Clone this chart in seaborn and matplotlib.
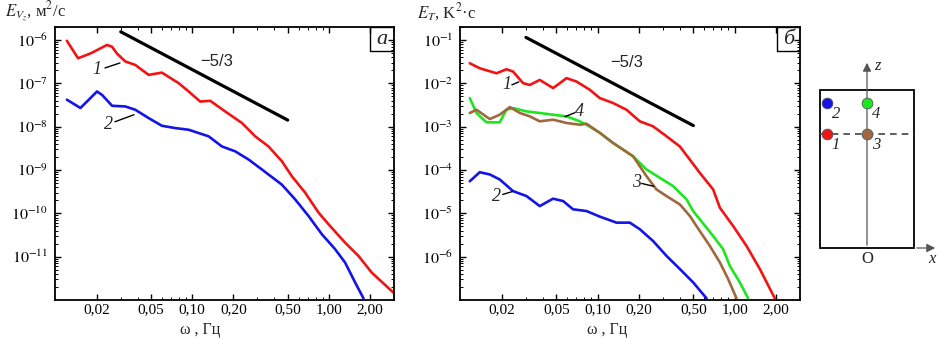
import numpy as np
import pandas as pd
import matplotlib
matplotlib.use("Agg")
import matplotlib.pyplot as plt
import seaborn as sns
from matplotlib.patches import Rectangle, FancyArrowPatch

# ---------------- data ----------------
# Panel a: velocity spectra E_Vz
a1_x = [0.0121, 0.0146, 0.0180, 0.0238, 0.0259, 0.0281, 0.0324, 0.0383, 0.048, 0.060, 0.0796,
        0.0942, 0.1145, 0.1355, 0.1743, 0.231, 0.289, 0.362, 0.453, 0.536, 0.671, 0.841, 0.995,
        1.316, 1.648, 2.06, 3.05]
a1_y = [9.6e-7, 3.8e-7, 4.9e-7, 7.7e-7, 7.0e-7, 4.9e-7, 3.2e-7, 2.66e-7, 1.57e-7, 1.77e-7, 1.01e-7,
        6.5e-8, 3.8e-8, 3.96e-8, 2.25e-8, 1.22e-8, 6.0e-9, 3.5e-9, 1.6e-9, 7.2e-10, 3.0e-10, 1.04e-10,
        5.6e-11, 2.1e-11, 1.04e-11, 4.3e-12, 1.37e-12]
a2_x = [0.0121, 0.0152, 0.0175, 0.0201, 0.0219, 0.0259, 0.0324, 0.0383, 0.048, 0.060, 0.0751, 0.0942,
        0.1318, 0.165, 0.2064, 0.259, 0.3235, 0.453, 0.567, 0.71, 0.889, 1.112, 1.316, 1.557, 1.794]
a2_y = [4.2e-8, 2.7e-8, 4.2e-8, 6.5e-8, 5.4e-8, 3.04e-8, 2.93e-8, 2.46e-8, 1.58e-8, 1.05e-8, 9.3e-9,
        8.5e-9, 6.0e-9, 3.5e-9, 2.7e-9, 1.74e-9, 1.03e-9, 4.6e-10, 2.1e-10, 8.7e-11, 3.3e-11, 1.49e-11,
        7.3e-12, 2.55e-12, 1.09e-12]
a_slope_x = [0.03, 0.5]
a_slope_y = [1.55e-6, 1.42e-8]

# Panel b: temperature spectra E_T
b1_x = [0.01167, 0.0138, 0.01828, 0.02163, 0.02416, 0.02858, 0.032, 0.0378, 0.0473, 0.053, 0.0593,
        0.0702, 0.0877, 0.1038, 0.1298, 0.1625, 0.2032, 0.254, 0.3185, 0.398, 0.471, 0.557, 0.697,
        0.78, 0.975, 1.221, 1.527, 1.966]
b1_y = [2.91e-2, 2.23e-2, 1.71e-2, 2.12e-2, 1.87e-2, 1.01e-2, 9.2e-3, 1.2e-2, 7.8e-3, 1.01e-2, 1.32e-2,
        1.1e-2, 7.1e-3, 4.57e-3, 3.51e-3, 2.46e-3, 1.33e-3, 1.02e-3, 6.0e-4, 3.5e-4, 1.74e-4, 8.6e-5,
        3.56e-5, 1.35e-5, 5.1e-6, 1.77e-6, 5.2e-7, 1.09e-7]
b2_x = [0.01167, 0.0138, 0.01634, 0.0193, 0.02416, 0.0303, 0.0378, 0.0473, 0.056, 0.0662, 0.083,
        0.1038, 0.1374, 0.1718, 0.2032, 0.254, 0.3185, 0.398, 0.498, 0.624]
b2_y = [5.5e-5, 8.9e-5, 7.9e-5, 6.05e-5, 3.26e-5, 2.5e-5, 1.47e-5, 2.18e-5, 1.92e-5, 1.24e-5, 1.13e-5,
        8.4e-6, 6.1e-6, 6.1e-6, 4.3e-6, 2.3e-6, 1.04e-6, 5.2e-7, 2.55e-7, 1.09e-7]
b3_x = [0.01167, 0.01306, 0.01634, 0.0193, 0.0229, 0.0271, 0.032, 0.0378, 0.0473, 0.0593, 0.0741,
        0.083, 0.1038, 0.1298, 0.1816, 0.2275, 0.269, 0.3185, 0.398, 0.471, 0.557, 0.659, 0.78,
        0.897, 1.032]
b3_y = [2.07e-3, 2.46e-3, 1.5e-3, 1.89e-3, 2.84e-3, 2.07e-3, 1.73e-3, 1.33e-3, 1.45e-3, 1.22e-3, 1.11e-3,
        1.17e-3, 7.2e-4, 4.2e-4, 2.07e-4, 7.2e-5, 3.56e-5, 2.5e-5, 1.61e-5, 8.7e-6, 3.9e-6, 1.77e-6,
        7.4e-7, 3.04e-7, 1.09e-7]
b4_x = [0.01167, 0.01306, 0.01545, 0.0193, 0.0216, 0.02416, 0.0303, 0.0378, 0.0473, 0.0593, 0.0741,
        0.083, 0.1038, 0.1298, 0.1816, 0.2275, 0.2845, 0.356, 0.446, 0.498, 0.557, 0.697, 0.824,
        0.923, 1.091, 1.255]
b4_y = [4.57e-3, 2.07e-3, 1.26e-3, 1.26e-3, 2.46e-3, 2.69e-3, 2.25e-3, 2.07e-3, 1.89e-3, 1.73e-3, 1.33e-3,
        1.11e-3, 7.2e-4, 4.2e-4, 2.07e-4, 1.03e-4, 6.6e-5, 4.25e-5, 2.1e-5, 1.13e-5, 7.3e-6, 3.0e-6,
        1.49e-6, 6.1e-7, 2.55e-7, 1.09e-7]
b_slope_x = [0.03, 0.5]
b_slope_y = [0.115, 1.06e-3]

xtick_vals = [0.02, 0.05, 0.1, 0.2, 0.5, 1.0, 2.0]
xtick_labels = ["0,02", "0,05", "0,10", "0,20", "0,50", "1,00", "2,00"]
a_yticks = [1e-6, 1e-7, 1e-8, 1e-9, 1e-10, 1e-11]
b_yticks = [1e-1, 1e-2, 1e-3, 1e-4, 1e-5, 1e-6]

RED, BLUE, GREEN, BROWN = "#f01414", "#1414e6", "#1ee61e", "#a0683c"

# ---------------- style ----------------
sns.set_theme(style="ticks")
plt.rcParams["font.family"] = ["Liberation Serif", "DejaVu Serif"]
plt.rcParams["mathtext.fontset"] = "stix"
plt.rcParams["axes.linewidth"] = 1.3
plt.rcParams["axes.edgecolor"] = "black"

W, H = 940, 338
fig = plt.figure(figsize=(W / 100, H / 100), dpi=100)


def px_axes(x0, y0, x1, y1):
    return fig.add_axes([x0 / W, 1 - y1 / H, (x1 - x0) / W, (y1 - y0) / H])


def curve(ax, xs, ys, color, lw=1.9):
    df = pd.DataFrame({"x": xs, "y": ys})
    sns.lineplot(data=df, x="x", y="y", ax=ax, color=color, lw=lw, sort=False,
                 estimator=None, legend=False)


def setup(ax, ylim, yticks):
    ax.set_xscale("log")
    ax.set_yscale("log")
    ax.set_xlim(0.0099, 3.0)
    ax.set_ylim(*ylim)
    ax.set_xticks(xtick_vals)
    ax.set_xticklabels(xtick_labels)
    ax.set_yticks(yticks)
    ax.set_yticklabels([r"$10^{%d}$" % int(round(np.log10(v))) for v in yticks])
    ax.tick_params(which="both", direction="in", top=True, right=True, labelsize=11.5,
                   colors="black")
    ax.tick_params(axis="x", which="both", pad=2.5, labelsize=11)
    ax.tick_params(axis="y", which="both", pad=5)
    ax.tick_params(which="major", length=4, width=1)
    ax.tick_params(which="minor", length=2, width=0.7)
    ax.set_xlabel("")
    ax.set_ylabel("")
    for s in ax.spines.values():
        s.set_color("black")


def panel_box(ax, txt, wfrac, hfrac):
    ax.add_patch(Rectangle((1 - wfrac, 1 - hfrac), wfrac, hfrac, transform=ax.transAxes,
                           fill=False, ec="black", lw=1.0, zorder=5))
    ax.text(1 - wfrac / 2, 1 - hfrac / 2, txt, transform=ax.transAxes, ha="center", va="center",
            fontsize=16, style="italic", zorder=6)


def tag(ax, txt, tx, ty, lx, ly):
    ax.text(tx, ty, txt, ha="center", va="center", fontsize=13, style="italic")
    ax.plot(lx, ly, color="black", lw=1.0)


# ---------------- panel a ----------------
axa = px_axes(55, 27, 394, 300)
curve(axa, a1_x, a1_y, RED)
curve(axa, a2_x, a2_y, BLUE)
curve(axa, a_slope_x, a_slope_y, "black", lw=2.3)
setup(axa, (1.0e-12, 2.0e-6), a_yticks)
panel_box(axa, "а", 24 / 339, 24 / 273)
axa.text(0.152, 3.12e-7, "−5/3", family="Liberation Sans", fontsize=12, ha="center", va="center")
tag(axa, "1", 0.0201, 2.04e-7, [0.023, 0.0296], [2.27e-7, 2.96e-7])
tag(axa, "2", 0.0242, 1.11e-8, [0.0272, 0.0375], [1.30e-8, 1.89e-8])
fig.text(5 / W, 1 - 12 / H, r"$E_{V_z}$, м$^2$/с", fontsize=12, ha="left", va="center")
fig.text(200 / W, 1 - 330 / H, "ω , Гц", fontsize=11.5, ha="center", va="center")

# ---------------- panel b ----------------
axb = px_axes(460, 27, 800, 300)
curve(axb, b1_x, b1_y, RED)
curve(axb, b2_x, b2_y, BLUE)
curve(axb, b4_x, b4_y, GREEN)
curve(axb, b3_x, b3_y, BROWN)
curve(axb, b_slope_x, b_slope_y, "black", lw=2.3)
setup(axb, (1.0e-7, 2.0e-1), b_yticks)
panel_box(axb, "б", 23 / 340, 24 / 273)
axb.text(0.163, 3.1e-2, "−5/3", family="Liberation Sans", fontsize=12, ha="center", va="center")
tag(axb, "1", 0.0217, 9.25e-3, [0.0237, 0.0266], [9.25e-3, 1.08e-2])
tag(axb, "4", 0.0742, 2.2e-3, [0.0577, 0.0682], [1.7e-3, 2.1e-3])
tag(axb, "3", 0.193, 5.2e-5, [0.210, 0.257], [4.9e-5, 4.2e-5])
tag(axb, "2", 0.0184, 2.46e-5, [0.0203, 0.024], [2.73e-5, 3.2e-5])
fig.text(417 / W, 1 - 12 / H, r"$E_T$, K$^2$·c", fontsize=12, ha="left", va="center")
fig.text(607 / W, 1 - 330 / H, "ω , Гц", fontsize=11.5, ha="center", va="center")

# ---------------- schematic ----------------
sensor_x = [827, 827, 867, 867]
sensor_y = [134, 103, 134, 103]
sensor_c = [RED, BLUE, BROWN, GREEN]
sensor_lbl = ["1", "2", "3", "4"]

axs = px_axes(800, 40, 940, 280)
axs.set_xlim(800, 940)
axs.set_ylim(280, 40)
axs.axis("off")
axs.add_patch(Rectangle((820, 90), 94, 158, fill=False, ec="black", lw=1.3))
axs.plot([820, 914], [134, 134], color="#444444", lw=1.2, ls=(0, (4, 3)))
axs.add_patch(FancyArrowPatch((867, 248), (867, 60), arrowstyle="-|>,head_length=5,head_width=2.5",
                              color="#555555", lw=0.9, mutation_scale=1))
axs.add_patch(FancyArrowPatch((914, 248), (938, 248), arrowstyle="-|>,head_length=5,head_width=2.5",
                              color="#555555", lw=0.9, mutation_scale=1))
for sx, sy, sc, sl in zip(sensor_x, sensor_y, sensor_c, sensor_lbl):
    axs.scatter([sx], [sy], s=60, color=sc, edgecolor="#555555", linewidth=0.6, zorder=5)
    axs.text(sx + 9, sy + 11, sl, fontsize=12, style="italic", ha="center", va="center")
axs.text(877, 66, "z", fontsize=12, style="italic", ha="center", va="center")
axs.text(932, 259, "x", fontsize=12, style="italic", ha="center", va="center")
axs.text(867, 259, "O", fontsize=12, ha="center", va="center")

fig.savefig("out.png", dpi=100)
